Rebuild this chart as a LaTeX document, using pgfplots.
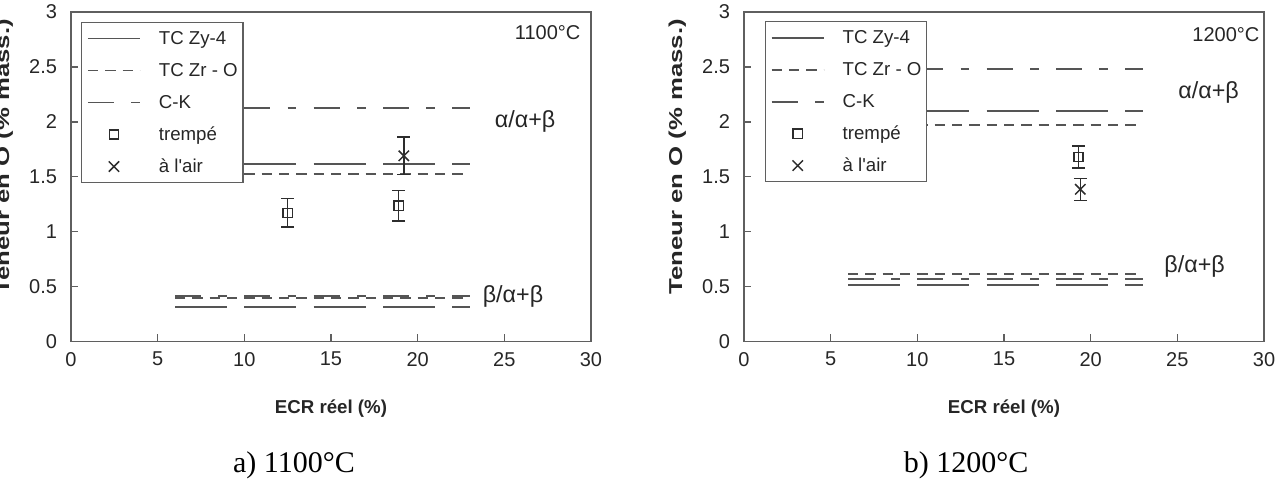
\documentclass[border=0pt]{standalone}
\usepackage{fontspec}
\setmainfont{Liberation Sans}
\newfontfamily\capfont{Liberation Serif}
\usepackage{pgfplots}
\pgfplotsset{compat=1.18}
\definecolor{framegray}{RGB}{95,95,95}
\definecolor{linegray}{RGB}{85,85,85}
\definecolor{ptcol}{RGB}{45,45,45}
\pgfplotsset{
  lineleg/.style={legend image code/.code={\draw[##1] (0pt,0pt) -- (39pt,0pt);}},
  markleg/.style={legend image code/.code={\draw[mark repeat=2,mark phase=2,##1] plot coordinates {(0pt,0pt) (19.5pt,0pt) (39pt,0pt)};}},
  zy/.style={linegray, line width=1.4pt, dash pattern=on 39pt off 13pt, lineleg},
  zro/.style={linegray, line width=1.4pt, dash pattern=on 7.8pt off 5.2pt, lineleg},
  ck/.style={linegray, line width=1.4pt, dash pattern=on 19.5pt off 13pt on 6.5pt off 13pt, lineleg},
  trempe/.style={only marks, mark=square, mark size=3.5pt, mark options={solid, line width=1.1pt, draw=ptcol}, markleg,
     error bars/.cd, y dir=both, y explicit, error bar style={line width=1.1pt, ptcol, solid},
     error mark options={rotate=90, mark size=4.8pt, line width=1.1pt, ptcol}},
  air/.style={only marks, mark=x, mark size=5.5pt, mark options={solid, line width=1.1pt, draw=ptcol}, markleg,
     error bars/.cd, y dir=both, y explicit, error bar style={line width=1.1pt, ptcol, solid},
     error mark options={rotate=90, mark size=4.8pt, line width=1.1pt, ptcol}},
  base/.style={
    scale only axis, width=390pt, height=247pt,
    xmin=0, xmax=30, ymin=0, ymax=3,
    xtick={0,5,...,30}, ytick={0,0.5,...,3},
    tick align=inside, tick pos=left,
    major tick length=5.25pt,
    axis line style={draw=framegray, line width=1.1pt},
    every tick/.style={framegray, line width=1.1pt},
    tick label style={font=\fontsize{15}{17}\selectfont, text=black!85},
    /pgf/number format/assume math mode=true,
    yticklabel style={xshift=-7pt},
    xticklabel style={yshift=-4.5pt},
    xlabel={ECR réel (\%)},
    xlabel style={at={(axis description cs:0.5,0)}, anchor=base, yshift=-54pt, font=\fontsize{14}{16}\selectfont\bfseries, text=black!85},
    ylabel={\scalebox{1.38}[1]{Teneur en O (\% mass.)}},
    ylabel style={at={(axis description cs:-0.119,0.56)}, anchor=base, font=\fontsize{14}{16}\selectfont\bfseries, text=black!85},
    legend style={anchor=north west, draw=framegray, line width=1pt, fill=white,
      inner xsep=4pt, inner ysep=0pt, row sep=0pt, font=\fontsize{14}{16}\selectfont,
      nodes={inner sep=0pt, minimum height=24pt, text=black!85},
      /tikz/every odd column/.append style={column sep=13.5pt}},
    legend cell align=left,
  }
}
\begin{document}
\begin{tikzpicture}
\useasboundingbox (0,0) rectangle (957.75pt,-362.25pt);
% ---------- a) 1100 C ----------
\begin{axis}[base, at={(53.25pt,-256pt)}, anchor=south west,
  legend style={at={(rel axis cs:0.0193,0.970)}}]
\addplot[zy] coordinates {(6,1.615) (23,1.615)}; \addlegendentry{TC Zy-4}
\addplot[zro] coordinates {(6,1.525) (23,1.525)}; \addlegendentry{TC Zr - O}
\addplot[ck] coordinates {(6,2.125) (23,2.125)}; \addlegendentry{C-K}
\addplot[trempe] coordinates {(12.5,1.17) +- (0,0.13) (18.9,1.235) +- (0,0.14)}; \addlegendentry{trempé}
\addplot[air] coordinates {(19.2,1.69) +- (0,0.17)}; \addlegendentry{à l\textquotesingle air}
\addplot[zy, forget plot] coordinates {(6,0.31) (23,0.31)};
\addplot[zro, forget plot] coordinates {(6,0.395) (23,0.395)};
\addplot[ck, forget plot] coordinates {(6,0.41) (23,0.41)};
\node[font=\fontsize{15}{17}\selectfont, text=black!85] at (axis cs:27.5,2.81) {1100°C};
\node[font=\fontsize{17.5}{19}\selectfont, text=black!85] at (axis cs:26.2,2.0) {α/α+β};
\node[font=\fontsize{17.5}{19}\selectfont, text=black!85] at (axis cs:25.5,0.41) {β/α+β};
\end{axis}
% ---------- b) 1200 C ----------
\begin{axis}[base, at={(558pt,-256pt)}, anchor=south west,
  legend style={at={(rel axis cs:0.040,0.973)}}]
\addplot[zy] coordinates {(6,2.10) (23,2.10)}; \addlegendentry{TC Zy-4}
\addplot[zro] coordinates {(6,1.97) (23,1.97)}; \addlegendentry{TC Zr - O}
\addplot[ck] coordinates {(6,2.48) (23,2.48)}; \addlegendentry{C-K}
\addplot[trempe] coordinates {(19.3,1.68) +- (0,0.10)}; \addlegendentry{trempé}
\addplot[air] coordinates {(19.4,1.385) +- (0,0.10)}; \addlegendentry{à l\textquotesingle air}
\addplot[zy, forget plot] coordinates {(6,0.51) (23,0.51)};
\addplot[zro, forget plot] coordinates {(6,0.615) (23,0.615)};
\addplot[ck, forget plot] coordinates {(6,0.565) (23,0.565)};
\node[font=\fontsize{15}{17}\selectfont, text=black!85] at (axis cs:27.8,2.79) {1200°C};
\node[font=\fontsize{17.5}{19}\selectfont, text=black!85] at (axis cs:26.8,2.27) {α/α+β};
\node[font=\fontsize{17.5}{19}\selectfont, text=black!85] at (axis cs:26.0,0.68) {β/α+β};
\end{axis}
\node[font=\fontsize{22.5}{26}\capfont, anchor=base] at (220.5pt,-354pt) {a) 1100°C};
\node[font=\fontsize{22.5}{26}\capfont, anchor=base] at (724.5pt,-354pt) {b) 1200°C};
\end{tikzpicture}
\end{document}
